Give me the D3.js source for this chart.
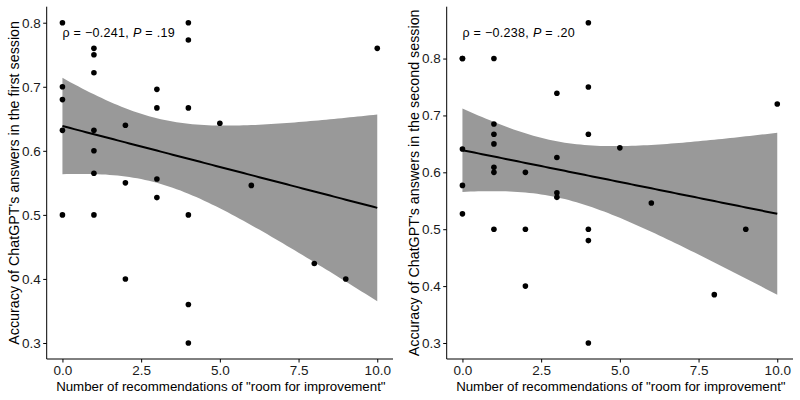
<!DOCTYPE html>
<html><head><meta charset="utf-8">
<script src="https://cdn.jsdelivr.net/npm/d3@7"></script>
<style>body{margin:0;background:#fff}svg{display:block}text{font-family:"Liberation Sans",Arial,sans-serif}</style>
</head><body><svg id="c" width="800" height="400"></svg>
<script>
// ---- data ----
const recommendations = [0,0,0,0,0, 1,1,1,1,1,1,1, 2,2,2, 3,3,3,3, 4,4,4,4,4,4, 5,6,8,9,10];
const accuracyFirst  = [0.8,0.7,0.68,0.632,0.5, 0.76,0.75,0.722,0.632,0.6,0.565,0.5, 0.64,0.55,0.4, 0.696,0.667,0.556,0.527, 0.8,0.773,0.667,0.5,0.36,0.3, 0.643,0.546,0.424,0.4,0.76];
const accuracySecond = [0.8,0.8,0.641,0.577,0.527, 0.8,0.685,0.667,0.65,0.609,0.6,0.5, 0.6,0.5,0.4, 0.739,0.626,0.564,0.556, 0.863,0.75,0.667,0.5,0.48,0.3, 0.643,0.546,0.385,0.5,0.72];
const xTicks = [0, 2.5, 5, 7.5, 10];
const yTicks = [0.3, 0.4, 0.5, 0.6, 0.7, 0.8];
const xTitle = 'Number of recommendations of "room for improvement"';
const yTitles = ["Accuracy of ChatGPT's answers in the first session", "Accuracy of ChatGPT's answers in the second session"];
const rhoText = ["−0.241", "−0.238"];
const pText = [".19", ".20"];
const T_CRIT = 2.048; // t(0.975, df = 28)

const svg = d3.select("#c");

function expand(ext){ const r = ext[1]-ext[0]; return [ext[0]-0.05*r, ext[1]+0.05*r]; }

function panel(x0, xs, ys, yTitle, rho, p){
  const left = x0 + 46.7, right = x0 + 393, top = 6.7, bottom = 359;
  const x = d3.scaleLinear().domain(expand(d3.extent(xs))).range([left, right]);
  const y = d3.scaleLinear().domain(expand(d3.extent(ys))).range([bottom, top]);
  const g = svg.append("g");

  // linear fit + 95% CI
  const n = xs.length, mx = d3.mean(xs), my = d3.mean(ys);
  let sxx = 0, sxy = 0;
  xs.forEach((v,i)=>{ sxx += (v-mx)*(v-mx); sxy += (v-mx)*(ys[i]-my); });
  const b = sxy/sxx, a = my - b*mx;
  let sse = 0; xs.forEach((v,i)=>{ const r = ys[i]-(a+b*v); sse += r*r; });
  const s = Math.sqrt(sse/(n-2));
  const [xmin, xmax] = d3.extent(xs);
  const grid = d3.range(0, 81).map(k => xmin + (xmax-xmin)*k/80);
  const band = grid.map(v => { const f = a+b*v; const h = T_CRIT*s*Math.sqrt(1/n + (v-mx)*(v-mx)/sxx); return {x:v, lo:f-h, hi:f+h, f}; });

  g.append("path").datum(band).attr("fill", "#999999")
    .attr("d", d3.area().x(d=>x(d.x)).y0(d=>y(d.lo)).y1(d=>y(d.hi)));
  g.append("path").datum(band).attr("fill","none").attr("stroke","#000").attr("stroke-width",2)
    .attr("d", d3.line().x(d=>x(d.x)).y(d=>y(d.f)));

  g.selectAll("circle.pt").data(xs.map((v,i)=>[v, ys[i]])).join("circle")
    .attr("cx", d=>x(d[0])).attr("cy", d=>y(d[1])).attr("r", 2.8).attr("fill", "#000");

  // axes
  const ax = g.append("g").attr("transform", `translate(0,${bottom})`)
    .call(d3.axisBottom(x).tickValues(xTicks).tickFormat(d3.format(".1f")).tickSizeOuter(0).tickSize(3.5).tickPadding(3));
  const ay = g.append("g").attr("transform", `translate(${left},0)`)
    .call(d3.axisLeft(y).tickValues(yTicks).tickFormat(d3.format(".1f")).tickSizeOuter(0).tickSize(3.5).tickPadding(2.5));
  [ax, ay].forEach(a => {
    a.select(".domain").attr("stroke","#000").attr("stroke-width",1);
    a.selectAll(".tick line").attr("stroke","#000").attr("stroke-width",1);
    a.selectAll(".tick text").attr("fill","#1a1a1a").style("font-size","13.5px").style("font-family",'"Liberation Sans",Arial,sans-serif');
  });
  ay.select(".domain").attr("d", `M0,${bottom}V${top}`);
  ax.select(".domain").attr("d", `M${left},0H${right}`);

  g.append("text").attr("x", (left+right)/2 + 1).attr("y", 391).attr("text-anchor","middle")
    .style("font-size","13.3px").attr("fill","#000").text(xTitle);
  g.append("text").attr("transform", `translate(${x0+19},${(top+bottom)/2}) rotate(-90)`)
    .attr("text-anchor","middle").style("font-size","14.3px").attr("fill","#000").text(yTitle);

  const t = g.append("text").attr("x", x(0)).attr("y", 37).style("font-size","12.5px")
    .style("letter-spacing","0.3px").attr("fill","#000");
  t.append("tspan").text(`ρ = ${rho}, `);
  t.append("tspan").attr("font-style","italic").text("P");
  t.append("tspan").text(` = ${p}`);
}

panel(0, recommendations, accuracyFirst, yTitles[0], rhoText[0], pText[0]);
panel(400, recommendations, accuracySecond, yTitles[1], rhoText[1], pText[1]);
</script></body></html>
